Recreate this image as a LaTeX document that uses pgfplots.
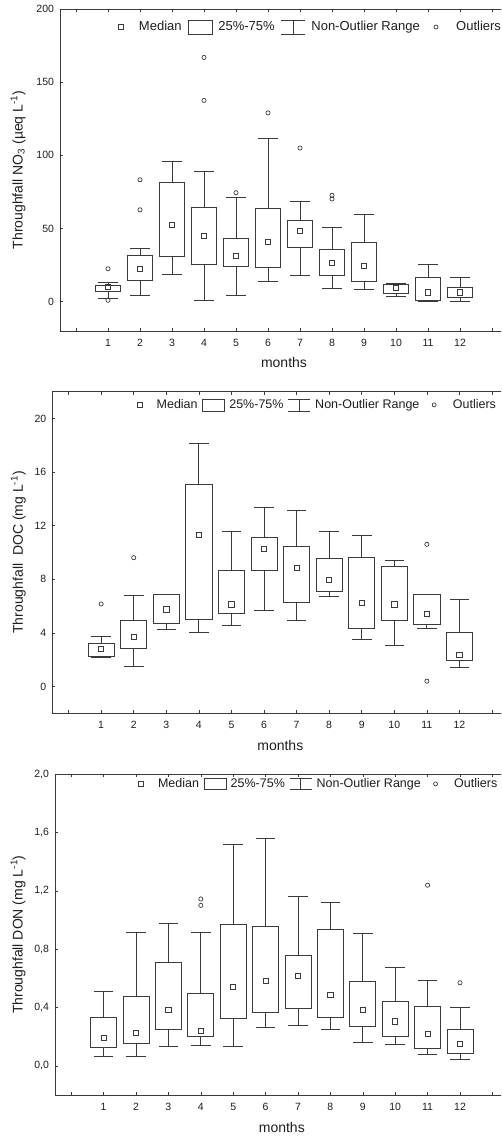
\documentclass[border=0pt]{standalone}
\usepackage{fontspec}
\setmainfont{Liberation Sans}
\usepackage{pgfplots}
\pgfplotsset{compat=1.18}
\usepgfplotslibrary{statistics}
\definecolor{ln}{HTML}{3A3A3A}
\definecolor{tx}{HTML}{1E1E1E}

% draw position, lower whisker, lower quartile, median, upper quartile, upper whisker
\newcommand{\bx}[6]{\addplot[ln, line width=0.8pt, forget plot, boxplot prepared={draw position=#1, lower whisker=#2, lower quartile=#3, median=#4, upper quartile=#5, upper whisker=#6}] coordinates {};}

\pgfplotsset{
  bstyle/.style={
    scale only axis, anchor=south west,
    xmin=-0.5, xmax=13.5,
    xtick={0,1,2,3,4,5,6,7,8,9,10,11,12,13},
    xticklabels={,1,2,3,4,5,6,7,8,9,10,11,12,},
    xtick pos=both, ytick pos=left, tick align=inside,
    major tick length=3pt,
    axis line style={ln, line width=0.8pt},
    every tick/.style={ln, line width=0.6pt},
    tick label style={font=\fontsize{10.5}{12}\selectfont, text=tx},
    xticklabel style={yshift=-4.5pt},
    yticklabel style={xshift=-2.5pt},
    /pgf/number format/assume math mode=true,
    xlabel={months},
    every axis x label/.style={at={(rel axis cs:0.5,0)}, anchor=center, yshift=-32pt, font=\fontsize{14}{16}\selectfont, text=tx},
    boxplot/draw direction=y,
    boxplot/box extend=0.8, boxplot/whisker extend=0.6,
    boxplot/draw/median/.code={},
    boxplot/every box/.style={fill=white},
    legend columns=4,
    legend style={draw=none, fill=none, font=\fontsize{13}{15}\selectfont, text=tx, anchor=west, inner sep=0pt, column sep=3pt, nodes={inner xsep=3pt, inner ysep=0pt}},
    legend cell align=left,
  },
  tightleg/.style={legend style={font=\fontsize{12.5}{14}\selectfont, column sep=1.5pt}},
  med/.style={only marks, forget plot, mark=square, mark size=2.6pt, mark options={ln, line width=0.8pt, fill=white}},
  outl/.style={only marks, forget plot, mark=o, mark size=2.1pt, mark options={ln, line width=0.7pt}},
}

\begin{document}
\begin{tikzpicture}
\useasboundingbox (0,0) rectangle (501pt,1137pt);
\clip (0,0) rectangle (501pt,1137pt);

% ---------------- Panel 1: NO3 ----------------
\begin{axis}[bstyle, at={(60pt,806pt)}, width=448pt, height=322pt,
  ymin=-20, ymax=200, ytick={0,50,100,150,200},
  ylabel={Throughfall NO\textsubscript{3} (µeq L\textsuperscript{-1})},
  every axis y label/.style={at={(rel axis cs:0,0.5)}, xshift=-42pt, rotate=90, anchor=center, font=\fontsize{14}{16}\selectfont, text=tx},
  legend style={at={(0.108,0.944)}}]
\addlegendimage{legend image code/.code={\draw[ln,line width=0.7pt] (9.5pt,-2.5pt) rectangle (14.5pt,2.5pt); \path (0pt,0pt) (24pt,0pt);}}
\addlegendentry{Median}
\addlegendimage{legend image code/.code={\draw[ln,line width=0.7pt] (0pt,-7pt) rectangle (24pt,7pt);}}
\addlegendentry{25\%-75\%}
\addlegendimage{legend image code/.code={\draw[ln,line width=0.7pt] (0pt,7pt) -- (24pt,7pt) (12pt,7pt) -- (12pt,-7pt) (0pt,-7pt) -- (24pt,-7pt);}}
\addlegendentry{Non-Outlier Range}
\addlegendimage{legend image code/.code={\draw[ln,line width=0.7pt] (10pt,0pt) circle (2pt); \path (0pt,0pt) (24pt,0pt);}}
\addlegendentry{Outliers}
\bx{1}{2.3}{7.3}{9.9}{11}{13.5}
\bx{2}{4.6}{14.9}{22.5}{31.9}{36.7}
\bx{3}{19}{31.2}{52.3}{81.4}{95.7}
\bx{4}{0.7}{25.2}{45}{64.2}{89}
\bx{5}{4.6}{24.1}{31.4}{43.3}{71.1}
\bx{6}{13.8}{23.2}{40.8}{64}{111.6}
\bx{7}{17.7}{37.4}{48.2}{55.3}{68.6}
\bx{8}{9.2}{18.3}{26.4}{35.8}{50.7}
\bx{9}{8.3}{14.2}{24.3}{40.4}{59.6}
\bx{10}{3.7}{5.7}{9.4}{11.9}{12.6}
\bx{11}{0}{0.7}{6.4}{16.3}{25.2}
\bx{12}{0}{3}{6.4}{10.1}{16.7}
\addplot[med] coordinates {(1,9.9) (2,22.5) (3,52.3) (4,45) (5,31.4) (6,40.8) (7,48.2) (8,26.4) (9,24.3) (10,9.4) (11,6.4) (12,6.4)};
\addplot[outl] coordinates {(1,22.5) (1,1) (2,83.3) (2,62.8) (4,166.9) (4,137.5) (5,74.5) (6,129) (7,105) (8,72.7) (8,70.2)};
\end{axis}

% ---------------- Panel 2: DOC ----------------
\begin{axis}[bstyle, tightleg, at={(52.3pt,423.7pt)}, width=456pt, height=321.6pt,
  ymin=-2, ymax=22, ytick={0,4,8,12,16,20},
  ylabel={Throughfall\ \ DOC (mg L\textsuperscript{-1})},
  every axis y label/.style={at={(rel axis cs:0,0.5)}, xshift=-34pt, rotate=90, anchor=center, font=\fontsize{14}{16}\selectfont, text=tx},
  legend style={at={(0.165,0.959)}}]
\addlegendimage{legend image code/.code={\draw[ln,line width=0.7pt] (9.5pt,-2.5pt) rectangle (14.5pt,2.5pt); \path (0pt,0pt) (24pt,0pt);}}
\addlegendentry{Median}
\addlegendimage{legend image code/.code={\draw[ln,line width=0.7pt] (0pt,-6pt) rectangle (22pt,6pt);}}
\addlegendentry{25\%-75\%}
\addlegendimage{legend image code/.code={\draw[ln,line width=0.7pt] (0pt,6pt) -- (22pt,6pt) (11pt,6pt) -- (11pt,-6pt) (0pt,-6pt) -- (22pt,-6pt);}}
\addlegendentry{Non-Outlier Range}
\addlegendimage{legend image code/.code={\draw[ln,line width=0.7pt] (10pt,0pt) circle (2pt); \path (0pt,0pt) (24pt,0pt);}}
\addlegendentry{Outliers}
\bx{1}{2.2}{2.24}{2.79}{3.24}{3.74}
\bx{2}{1.5}{2.82}{3.72}{4.96}{6.81}
\bx{3}{4.24}{4.69}{5.76}{6.86}{6.86}
\bx{4}{4.01}{5.01}{11.33}{15.1}{18.16}
\bx{5}{4.56}{5.44}{6.13}{8.7}{11.58}
\bx{6}{5.69}{8.65}{10.26}{11.1}{13.39}
\bx{7}{4.91}{6.26}{8.87}{10.46}{13.14}
\bx{8}{6.71}{7.08}{7.96}{9.59}{11.6}
\bx{9}{3.54}{4.31}{6.21}{9.64}{11.25}
\bx{10}{3.04}{4.91}{6.13}{8.99}{9.42}
\bx{11}{4.36}{4.61}{5.41}{6.86}{6.86}
\bx{12}{1.4}{1.95}{2.34}{4.06}{6.48}
\addplot[med] coordinates {(1,2.79) (2,3.72) (3,5.76) (4,11.33) (5,6.13) (6,10.26) (7,8.87) (8,7.96) (9,6.21) (10,6.13) (11,5.41) (12,2.34)};
\addplot[outl] coordinates {(1,6.16) (2,9.61) (11,10.61) (11,0.4)};
\end{axis}

% ---------------- Panel 3: DON ----------------
\begin{axis}[bstyle, tightleg, at={(55pt,42pt)}, width=453.6pt, height=320.7pt,
  ymin=-0.2, ymax=2.0, ytick={0,0.4,0.8,1.2,1.6,2.0},
  yticklabel style={/pgf/number format/.cd, fixed, fixed zerofill, precision=1, use comma},
  ylabel={Throughfall DON (mg L\textsuperscript{-1})},
  every axis y label/.style={at={(rel axis cs:0,0.5)}, xshift=-37pt, rotate=90, anchor=center, font=\fontsize{14}{16}\selectfont, text=tx},
  legend style={at={(0.163,0.97)}}]
\addlegendimage{legend image code/.code={\draw[ln,line width=0.7pt] (9.5pt,-2.5pt) rectangle (14.5pt,2.5pt); \path (0pt,0pt) (24pt,0pt);}}
\addlegendentry{Median}
\addlegendimage{legend image code/.code={\draw[ln,line width=0.7pt] (0pt,-5.5pt) rectangle (22pt,5.5pt);}}
\addlegendentry{25\%-75\%}
\addlegendimage{legend image code/.code={\draw[ln,line width=0.7pt] (0pt,5.5pt) -- (22pt,5.5pt) (11pt,5.5pt) -- (11pt,-5.5pt) (0pt,-5.5pt) -- (22pt,-5.5pt);}}
\addlegendentry{Non-Outlier Range}
\addlegendimage{legend image code/.code={\draw[ln,line width=0.7pt] (10pt,0pt) circle (2pt); \path (0pt,0pt) (24pt,0pt);}}
\addlegendentry{Outliers}
\bx{1}{0.066}{0.128}{0.194}{0.335}{0.508}
\bx{2}{0.066}{0.157}{0.228}{0.474}{0.918}
\bx{3}{0.13}{0.248}{0.385}{0.707}{0.975}
\bx{4}{0.141}{0.2}{0.242}{0.499}{0.913}
\bx{5}{0.13}{0.326}{0.54}{0.968}{1.519}
\bx{6}{0.264}{0.365}{0.583}{0.957}{1.558}
\bx{7}{0.276}{0.394}{0.618}{0.757}{1.163}
\bx{8}{0.251}{0.335}{0.488}{0.936}{1.12}
\bx{9}{0.16}{0.271}{0.385}{0.579}{0.907}
\bx{10}{0.144}{0.2}{0.305}{0.44}{0.677}
\bx{11}{0.08}{0.121}{0.221}{0.406}{0.588}
\bx{12}{0.046}{0.087}{0.15}{0.251}{0.401}
\addplot[med] coordinates {(1,0.194) (2,0.228) (3,0.385) (4,0.242) (5,0.54) (6,0.583) (7,0.618) (8,0.488) (9,0.385) (10,0.305) (11,0.221) (12,0.15)};
\addplot[outl] coordinates {(4,1.145) (4,1.101) (11,1.239) (12,0.57)};
\end{axis}
\end{tikzpicture}
\end{document}
